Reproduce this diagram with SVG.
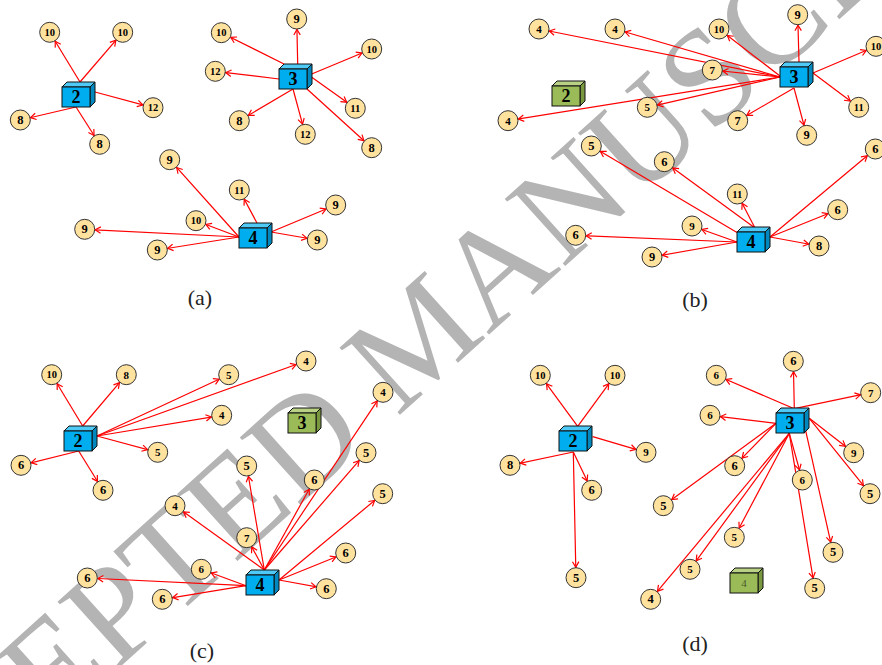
<svg xmlns="http://www.w3.org/2000/svg" width="882" height="665" viewBox="0 0 882 665">
<style>
.wm{font-family:"Liberation Serif",serif;font-size:138px;fill:#b4b4b4}
.c{fill:#ffe29e;stroke:#333;stroke-width:1}
.t{font-family:"Liberation Serif","DejaVu Serif",serif;font-weight:bold;font-size:12.5px;text-anchor:middle;dominant-baseline:central;fill:#000}
.s{font-size:11px}
.d{font-size:10.5px}
.bl{font-family:"Liberation Serif","DejaVu Serif",serif;font-weight:bold;font-size:18px;text-anchor:middle;dominant-baseline:central;fill:#000}
.bf{fill:#00aeef;stroke:#111;stroke-width:1}
.bt{fill:#4fcaf6;stroke:#111;stroke-width:1}
.bs{fill:#0088bf;stroke:#111;stroke-width:1}
.gf{fill:#9bbb59;stroke:#111;stroke-width:1}
.gt{fill:#b9d184;stroke:#111;stroke-width:1}
.gs{fill:#7a9840;stroke:#111;stroke-width:1}
.e line{stroke:#ff0000;stroke-width:1.2;marker-end:url(#ah)}
.cap{font-family:"Liberation Serif",serif;font-size:22px;fill:#222;text-anchor:middle}
</style>
<defs>
<marker id="ah" markerUnits="userSpaceOnUse" markerWidth="12" markerHeight="12" refX="10.5" refY="0" orient="auto" overflow="visible">
<path d="M-5.5,-3.2 L0,0 L-5.5,3.2" fill="none" stroke="#ff0000" stroke-width="1.2"/>
</marker>
<g id="cubeB"><polygon class="bt" points="0,0 5,-5 33,-5 28,0"/><polygon class="bs" points="28,0 33,-5 33,15 28,20"/><rect class="bf" x="0" y="0" width="28" height="20"/></g>
<g id="cubeG"><polygon class="gt" points="0,0 5,-5 33,-5 28,0"/><polygon class="gs" points="28,0 33,-5 33,15 28,20"/><rect class="gf" x="0" y="0" width="28" height="20"/></g>
</defs>
<rect width="882" height="665" fill="#fff"/>
<text class="wm" transform="translate(-158.6,917.8) rotate(-42)">ACCEPTED MANUSCRIPT</text>

<g id="connectors" class="e">
<!-- (a) -->
<line x1="80" y1="82" x2="49.7" y2="32.3"/>
<line x1="80" y1="82" x2="122.7" y2="32.3"/>
<line x1="95" y1="92" x2="153" y2="107.7"/>
<line x1="76" y1="107" x2="20.3" y2="120"/>
<line x1="76" y1="107" x2="99.7" y2="144.3"/>
<line x1="297.7" y1="64" x2="296.7" y2="19"/>
<line x1="284" y1="64" x2="221.3" y2="32.7"/>
<line x1="279" y1="79" x2="215.3" y2="71.3"/>
<line x1="311.7" y1="74" x2="371.7" y2="49"/>
<line x1="310" y1="76" x2="355.3" y2="108.3"/>
<line x1="307" y1="89" x2="371.7" y2="147.7"/>
<line x1="293" y1="89" x2="239.3" y2="120.7"/>
<line x1="293" y1="89" x2="305.3" y2="134.3"/>
<line x1="239" y1="237" x2="169.7" y2="159.7"/>
<line x1="239" y1="237" x2="196" y2="220.7"/>
<line x1="239" y1="237" x2="84.7" y2="229.3"/>
<line x1="239" y1="237" x2="157.3" y2="250"/>
<line x1="257" y1="223" x2="239.3" y2="190"/>
<line x1="271" y1="232" x2="335.7" y2="205"/>
<line x1="271" y1="232" x2="317.3" y2="240"/>
<!-- (b) -->
<line x1="780" y1="77" x2="539" y2="29"/>
<line x1="780" y1="77" x2="615" y2="29"/>
<line x1="780" y1="77" x2="712.3" y2="70"/>
<line x1="780" y1="77" x2="647.3" y2="107.3"/>
<line x1="780" y1="77" x2="508" y2="120.7"/>
<line x1="780" y1="76" x2="719" y2="29"/>
<line x1="799" y1="62" x2="797.7" y2="14.7"/>
<line x1="813" y1="73" x2="876" y2="46.3"/>
<line x1="813" y1="73" x2="858.7" y2="107.3"/>
<line x1="794" y1="88" x2="737.7" y2="120.7"/>
<line x1="794" y1="88" x2="806.7" y2="135.3"/>
<line x1="737" y1="242" x2="575.7" y2="235.3"/>
<line x1="737" y1="242" x2="652" y2="257"/>
<line x1="737" y1="242" x2="692" y2="226"/>
<line x1="737" y1="232.5" x2="591.3" y2="146"/>
<line x1="755" y1="228" x2="664.3" y2="161.7"/>
<line x1="755" y1="228" x2="737.3" y2="194"/>
<line x1="770" y1="237" x2="875.3" y2="149"/>
<line x1="770" y1="237" x2="837.7" y2="209.7"/>
<line x1="770" y1="237" x2="819" y2="246"/>
<!-- (c) -->
<line x1="82.7" y1="426" x2="51.7" y2="374.7"/>
<line x1="82.7" y1="426" x2="126.3" y2="374.7"/>
<line x1="97" y1="436" x2="228.7" y2="374.7"/>
<line x1="97" y1="436" x2="306" y2="361"/>
<line x1="97" y1="436" x2="221.7" y2="415.3"/>
<line x1="97" y1="436" x2="157.7" y2="452.3"/>
<line x1="78.7" y1="451" x2="21" y2="465.3"/>
<line x1="78.7" y1="451" x2="103" y2="490.3"/>
<line x1="264.3" y1="570" x2="246.7" y2="466"/>
<line x1="264.3" y1="570" x2="175" y2="505.7"/>
<line x1="264.3" y1="570" x2="246.7" y2="537.7"/>
<line x1="264.3" y1="570" x2="314.3" y2="480"/>
<line x1="264.3" y1="570" x2="383" y2="392.3"/>
<line x1="264.3" y1="570" x2="366" y2="452.7"/>
<line x1="279" y1="580" x2="382.7" y2="493.7"/>
<line x1="279" y1="580" x2="345.7" y2="553"/>
<line x1="279" y1="580" x2="326.3" y2="588.7"/>
<line x1="246" y1="585.7" x2="201.3" y2="569.3"/>
<line x1="246" y1="585.7" x2="87.3" y2="578"/>
<line x1="246" y1="585.7" x2="162.3" y2="599.3"/>
<!-- (d) -->
<line x1="577.7" y1="426.3" x2="540.3" y2="375.3"/>
<line x1="577.7" y1="426.3" x2="615" y2="375.3"/>
<line x1="592.7" y1="436.7" x2="646" y2="452.3"/>
<line x1="573.3" y1="452" x2="510" y2="465.3"/>
<line x1="573.3" y1="452" x2="591.7" y2="490.3"/>
<line x1="573.3" y1="452" x2="576" y2="577.7"/>
<line x1="794.3" y1="408.7" x2="793.3" y2="361.3"/>
<line x1="794.3" y1="408.7" x2="716.3" y2="375.3"/>
<line x1="794.3" y1="408.7" x2="870.7" y2="392.7"/>
<line x1="776" y1="423.3" x2="710" y2="415.3"/>
<line x1="776" y1="423.3" x2="734.7" y2="465.7"/>
<line x1="776" y1="423.3" x2="663.3" y2="505.7"/>
<line x1="789.3" y1="433.3" x2="650.7" y2="599.3"/>
<line x1="789.3" y1="433.3" x2="690" y2="569.3"/>
<line x1="789.3" y1="433.3" x2="734.3" y2="537.3"/>
<line x1="789.3" y1="433.3" x2="802.3" y2="480"/>
<line x1="789.3" y1="433.3" x2="814.7" y2="588.3"/>
<line x1="804.3" y1="424.7" x2="833" y2="552.3"/>
<line x1="809.3" y1="418.3" x2="853.7" y2="452.7"/>
<line x1="809.3" y1="418.3" x2="870" y2="493.7"/>
</g>

<!-- (a) nodes -->
<g id="a-box2"><use href="#cubeB" x="62" y="87"/><text class="bl" x="76" y="97">2</text></g>
<g id="a-box3"><use href="#cubeB" x="279" y="69"/><text class="bl" x="293" y="79">3</text></g>
<g id="a-box4"><use href="#cubeB" x="239" y="228"/><text class="bl" x="253" y="238">4</text></g>
<g id="a-n1"><circle class="c" cx="49.7" cy="32.3" r="10"/><text class="t d" x="49.7" y="32.3">10</text></g>
<g id="a-n2"><circle class="c" cx="122.7" cy="32.3" r="10"/><text class="t d" x="122.7" y="32.3">10</text></g>
<g id="a-n3"><circle class="c" cx="153" cy="107.7" r="10"/><text class="t d" x="153" y="107.7">12</text></g>
<g id="a-n4"><circle class="c" cx="20.3" cy="120" r="10"/><text class="t" x="20.3" y="120">8</text></g>
<g id="a-n5"><circle class="c" cx="99.7" cy="144.3" r="10"/><text class="t" x="99.7" y="144.3">8</text></g>
<g id="a-n6"><circle class="c" cx="296.7" cy="19" r="10"/><text class="t" x="296.7" y="19">9</text></g>
<g id="a-n7"><circle class="c" cx="221.3" cy="32.7" r="10"/><text class="t d" x="221.3" y="32.7">10</text></g>
<g id="a-n8"><circle class="c" cx="371.7" cy="49" r="10"/><text class="t d" x="371.7" y="49">10</text></g>
<g id="a-n9"><circle class="c" cx="215.3" cy="71.3" r="10"/><text class="t d" x="215.3" y="71.3">12</text></g>
<g id="a-n10"><circle class="c" cx="355.3" cy="108.3" r="10"/><text class="t d" x="355.3" y="108.3">11</text></g>
<g id="a-n11"><circle class="c" cx="239.3" cy="120.7" r="10"/><text class="t" x="239.3" y="120.7">8</text></g>
<g id="a-n12"><circle class="c" cx="305.3" cy="134.3" r="10"/><text class="t d" x="305.3" y="134.3">12</text></g>
<g id="a-n13"><circle class="c" cx="371.7" cy="147.7" r="10"/><text class="t" x="371.7" y="147.7">8</text></g>
<g id="a-n14"><circle class="c" cx="169.7" cy="159.7" r="10"/><text class="t" x="169.7" y="159.7">9</text></g>
<g id="a-n15"><circle class="c" cx="239.3" cy="190" r="10"/><text class="t d" x="239.3" y="190">11</text></g>
<g id="a-n16"><circle class="c" cx="196" cy="220.7" r="10"/><text class="t d" x="196" y="220.7">10</text></g>
<g id="a-n17"><circle class="c" cx="335.7" cy="205" r="10"/><text class="t" x="335.7" y="205">9</text></g>
<g id="a-n18"><circle class="c" cx="317.3" cy="240" r="10"/><text class="t" x="317.3" y="240">9</text></g>
<g id="a-n19"><circle class="c" cx="84.7" cy="229.3" r="10"/><text class="t" x="84.7" y="229.3">9</text></g>
<g id="a-n20"><circle class="c" cx="157.3" cy="250" r="10"/><text class="t" x="157.3" y="250">9</text></g>

<!-- (b) nodes -->
<g id="b-box3"><use href="#cubeB" x="780" y="67"/><text class="bl" x="794" y="77">3</text></g>
<g id="b-box2"><use href="#cubeG" x="552" y="86"/><text class="bl" x="566" y="96">2</text></g>
<g id="b-box4"><use href="#cubeB" x="737" y="232"/><text class="bl" x="751" y="242">4</text></g>
<g id="b-n1"><circle class="c" cx="539" cy="29" r="10"/><text class="t s" x="539" y="29">4</text></g>
<g id="b-n2"><circle class="c" cx="615" cy="29" r="10"/><text class="t s" x="615" y="29">4</text></g>
<g id="b-n3"><circle class="c" cx="719" cy="29" r="10"/><text class="t d" x="719" y="29">10</text></g>
<g id="b-n4"><circle class="c" cx="797.7" cy="14.7" r="10"/><text class="t" x="797.7" y="14.7">9</text></g>
<g id="b-n5"><circle class="c" cx="876" cy="46.3" r="10"/><text class="t d" x="876" y="46.3">10</text></g>
<g id="b-n6"><circle class="c" cx="712.3" cy="70" r="10"/><text class="t s" x="712.3" y="70">7</text></g>
<g id="b-n7"><circle class="c" cx="647.3" cy="107.3" r="10"/><text class="t s" x="647.3" y="107.3">5</text></g>
<g id="b-n8"><circle class="c" cx="508" cy="120.7" r="10"/><text class="t s" x="508" y="120.7">4</text></g>
<g id="b-n9"><circle class="c" cx="737.7" cy="120.7" r="10"/><text class="t" x="737.7" y="120.7">7</text></g>
<g id="b-n10"><circle class="c" cx="806.7" cy="135.3" r="10"/><text class="t" x="806.7" y="135.3">9</text></g>
<g id="b-n11"><circle class="c" cx="858.7" cy="107.3" r="10"/><text class="t d" x="858.7" y="107.3">11</text></g>
<g id="b-n12"><circle class="c" cx="591.3" cy="146" r="10"/><text class="t" x="591.3" y="146">5</text></g>
<g id="b-n13"><circle class="c" cx="664.3" cy="161.7" r="10"/><text class="t" x="664.3" y="161.7">6</text></g>
<g id="b-n14"><circle class="c" cx="737.3" cy="194" r="10"/><text class="t d" x="737.3" y="194">11</text></g>
<g id="b-n15"><circle class="c" cx="875.3" cy="149" r="10"/><text class="t" x="875.3" y="149">6</text></g>
<g id="b-n16"><circle class="c" cx="837.7" cy="209.7" r="10"/><text class="t" x="837.7" y="209.7">6</text></g>
<g id="b-n17"><circle class="c" cx="692" cy="226" r="10"/><text class="t s" x="692" y="226">9</text></g>
<g id="b-n18"><circle class="c" cx="575.7" cy="235.3" r="10"/><text class="t" x="575.7" y="235.3">6</text></g>
<g id="b-n19"><circle class="c" cx="819" cy="246" r="10"/><text class="t" x="819" y="246">8</text></g>
<g id="b-n20"><circle class="c" cx="652" cy="257" r="10"/><text class="t" x="652" y="257">9</text></g>

<!-- (c) nodes -->
<g id="c-box2"><use href="#cubeB" x="64" y="431"/><text class="bl" x="78" y="441">2</text></g>
<g id="c-box3"><use href="#cubeG" x="288" y="413"/><text class="bl" x="302" y="423">3</text></g>
<g id="c-box4"><use href="#cubeB" x="246" y="575"/><text class="bl" x="260" y="585">4</text></g>
<g id="c-n1"><circle class="c" cx="51.7" cy="374.7" r="10"/><text class="t d" x="51.7" y="374.7">10</text></g>
<g id="c-n2"><circle class="c" cx="126.3" cy="374.7" r="10"/><text class="t s" x="126.3" y="374.7">8</text></g>
<g id="c-n3"><circle class="c" cx="228.7" cy="374.7" r="10"/><text class="t s" x="228.7" y="374.7">5</text></g>
<g id="c-n4"><circle class="c" cx="306" cy="361" r="10"/><text class="t s" x="306" y="361">4</text></g>
<g id="c-n5"><circle class="c" cx="221.7" cy="415.3" r="10"/><text class="t s" x="221.7" y="415.3">4</text></g>
<g id="c-n6"><circle class="c" cx="157.7" cy="452.3" r="10"/><text class="t s" x="157.7" y="452.3">5</text></g>
<g id="c-n7"><circle class="c" cx="21" cy="465.3" r="10"/><text class="t" x="21" y="465.3">6</text></g>
<g id="c-n8"><circle class="c" cx="103" cy="490.3" r="10"/><text class="t" x="103" y="490.3">6</text></g>
<g id="c-n9"><circle class="c" cx="383" cy="392.3" r="10"/><text class="t s" x="383" y="392.3">4</text></g>
<g id="c-n10"><circle class="c" cx="366" cy="452.7" r="10"/><text class="t" x="366" y="452.7">5</text></g>
<g id="c-n11"><circle class="c" cx="246.7" cy="466" r="10"/><text class="t" x="246.7" y="466">5</text></g>
<g id="c-n12"><circle class="c" cx="314.3" cy="480" r="10"/><text class="t" x="314.3" y="480">6</text></g>
<g id="c-n13"><circle class="c" cx="382.7" cy="493.7" r="10"/><text class="t" x="382.7" y="493.7">5</text></g>
<g id="c-n14"><circle class="c" cx="175" cy="505.7" r="10"/><text class="t s" x="175" y="505.7">4</text></g>
<g id="c-n15"><circle class="c" cx="246.7" cy="537.7" r="10"/><text class="t s" x="246.7" y="537.7">7</text></g>
<g id="c-n16"><circle class="c" cx="345.7" cy="553" r="10"/><text class="t" x="345.7" y="553">6</text></g>
<g id="c-n17"><circle class="c" cx="201.3" cy="569.3" r="10"/><text class="t s" x="201.3" y="569.3">6</text></g>
<g id="c-n18"><circle class="c" cx="87.3" cy="578" r="10"/><text class="t" x="87.3" y="578">6</text></g>
<g id="c-n19"><circle class="c" cx="326.3" cy="588.7" r="10"/><text class="t" x="326.3" y="588.7">6</text></g>
<g id="c-n20"><circle class="c" cx="162.3" cy="599.3" r="10"/><text class="t" x="162.3" y="599.3">6</text></g>

<!-- (d) nodes -->
<g id="d-box2"><use href="#cubeB" x="559" y="431"/><text class="bl" x="573" y="441">2</text></g>
<g id="d-box3"><use href="#cubeB" x="776" y="413"/><text class="bl" x="790" y="423">3</text></g>
<g id="d-box4"><use href="#cubeG" x="730" y="573"/><text x="744" y="583" font-family="Liberation Serif,serif" font-size="11" fill="#4a5a2a" text-anchor="middle" dominant-baseline="central">4</text></g>
<g id="d-n1"><circle class="c" cx="540.3" cy="375.3" r="10"/><text class="t d" x="540.3" y="375.3">10</text></g>
<g id="d-n2"><circle class="c" cx="615" cy="375.3" r="10"/><text class="t d" x="615" y="375.3">10</text></g>
<g id="d-n3"><circle class="c" cx="646" cy="452.3" r="10"/><text class="t s" x="646" y="452.3">9</text></g>
<g id="d-n4"><circle class="c" cx="510" cy="465.3" r="10"/><text class="t" x="510" y="465.3">8</text></g>
<g id="d-n5"><circle class="c" cx="591.7" cy="490.3" r="10"/><text class="t" x="591.7" y="490.3">6</text></g>
<g id="d-n6"><circle class="c" cx="576" cy="577.7" r="10"/><text class="t" x="576" y="577.7">5</text></g>
<g id="d-n7"><circle class="c" cx="793.3" cy="361.3" r="10"/><text class="t" x="793.3" y="361.3">6</text></g>
<g id="d-n8"><circle class="c" cx="716.3" cy="375.3" r="10"/><text class="t s" x="716.3" y="375.3">6</text></g>
<g id="d-n9"><circle class="c" cx="870.7" cy="392.7" r="10"/><text class="t s" x="870.7" y="392.7">7</text></g>
<g id="d-n10"><circle class="c" cx="710" cy="415.3" r="10"/><text class="t s" x="710" y="415.3">6</text></g>
<g id="d-n11"><circle class="c" cx="734.7" cy="465.7" r="10"/><text class="t" x="734.7" y="465.7">6</text></g>
<g id="d-n12"><circle class="c" cx="802.3" cy="480" r="10"/><text class="t s" x="802.3" y="480">6</text></g>
<g id="d-n13"><circle class="c" cx="853.7" cy="452.7" r="10"/><text class="t s" x="853.7" y="452.7">9</text></g>
<g id="d-n14"><circle class="c" cx="870" cy="493.7" r="10"/><text class="t" x="870" y="493.7">5</text></g>
<g id="d-n15"><circle class="c" cx="663.3" cy="505.7" r="10"/><text class="t" x="663.3" y="505.7">5</text></g>
<g id="d-n16"><circle class="c" cx="734.3" cy="537.3" r="10"/><text class="t s" x="734.3" y="537.3">5</text></g>
<g id="d-n17"><circle class="c" cx="833" cy="552.3" r="10"/><text class="t" x="833" y="552.3">5</text></g>
<g id="d-n18"><circle class="c" cx="690" cy="569.3" r="10"/><text class="t s" x="690" y="569.3">5</text></g>
<g id="d-n19"><circle class="c" cx="814.7" cy="588.3" r="10"/><text class="t" x="814.7" y="588.3">5</text></g>
<g id="d-n20"><circle class="c" cx="650.7" cy="599.3" r="10"/><text class="t" x="650.7" y="599.3">4</text></g>

<g id="captions">
<text class="cap" x="200" y="305">(a)</text>
<text class="cap" x="695" y="307">(b)</text>
<text class="cap" x="202" y="658">(c)</text>
<text class="cap" x="695" y="651">(d)</text>
</g>
</svg>
